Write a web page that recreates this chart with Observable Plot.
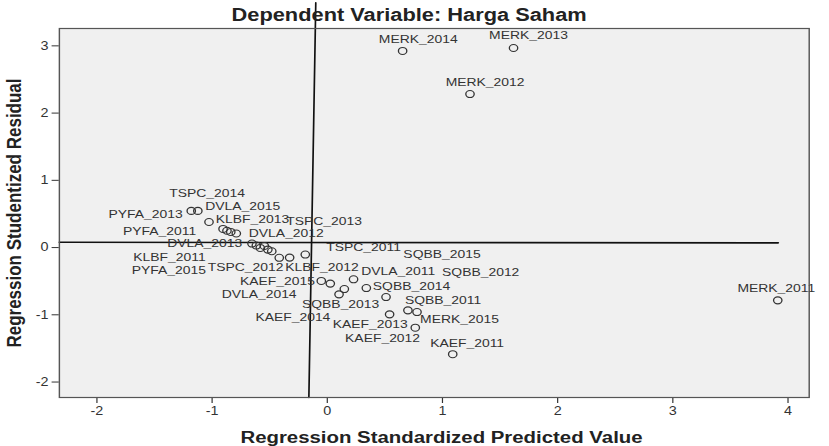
<!DOCTYPE html>
<html>
<head>
<meta charset="utf-8">
<script src="https://cdn.jsdelivr.net/npm/d3@7"></script>
<script src="https://cdn.jsdelivr.net/npm/@observablehq/plot@0.6"></script>
<style>
  html, body { margin: 0; padding: 0; background: #ffffff; overflow: hidden; }
  #chart { width: 829px; height: 446px; }
</style>
</head>
<body>
<div id="chart"></div>
<script>
// Regression Standardized Predicted Value (x) and Studentized Residual (y) for each case
const xPred = [-1.181, -1.124, -1.027, -0.905, -0.871, -0.838, -0.790, -0.654, -0.616, -0.582,
  -0.547, -0.516, -0.482, -0.417, -0.327, -0.191, -0.052, 0.026, 0.228, 0.148,
  0.102, 0.339, 0.510, 0.541, 0.700, 0.779, 0.764, 1.089, 3.911, 1.239, 1.617, 0.654];
const yResid = [0.545, 0.545, 0.380, 0.277, 0.250, 0.232, 0.209, 0.060, 0.030, -0.006,
  0.024, -0.030, -0.055, -0.152, -0.149, -0.104, -0.497, -0.536, -0.472, -0.617,
  -0.696, -0.602, -0.736, -0.993, -0.934, -0.959, -1.192, -1.586, -0.785, 2.283, 2.968, 2.924];

// Case labels and where they sit (in data units)
const labelText = ["MERK_2014", "MERK_2013", "MERK_2012", "MERK_2011", "TSPC_2014", "DVLA_2015",
  "PYFA_2013", "KLBF_2013", "TSPC_2013", "PYFA_2011", "DVLA_2012", "DVLA_2013", "TSPC_2011",
  "SQBB_2015", "KLBF_2011", "DVLA_2011", "SQBB_2012", "TSPC_2012", "KLBF_2012", "PYFA_2015",
  "KAEF_2015", "SQBB_2014", "DVLA_2014", "SQBB_2011", "SQBB_2013", "KAEF_2014", "MERK_2015",
  "KAEF_2013", "KAEF_2012", "KAEF_2011"];
const labelX = [0.790, 1.747, 1.370, 3.898, -1.044, -0.734, -1.578, -0.649, -0.028, -1.456,
  -0.356, -1.065, 0.315, 0.996, -1.370, 0.616, 1.332, -0.709, -0.046, -1.376,
  -0.432, 0.731, -0.592, 1.005, 0.116, -0.299, 1.148, 0.373, 0.480, 1.214];
const labelY = [3.098, 3.152, 2.458, -0.611, 0.804, 0.615, 0.491, 0.422, 0.392, 0.243,
  0.209, 0.060, 0.009, -0.100, -0.149, -0.353, -0.363, -0.298, -0.298, -0.338,
  -0.497, -0.576, -0.696, -0.785, -0.840, -1.043, -1.072, -1.147, -1.346, -1.421];

// Reference lines drawn on the chart
const refHX = [-2.326, 3.915];
const refHY = [0.078, 0.070];
const refVX = [-0.100, -0.160];
const refVY = [3.64, -2.23];

// Axes
const xTicks = [-2, -1, 0, 1, 2, 3, 4];
const yTicks = [-2, -1, 0, 1, 2, 3];
const xDomain = [-2.326, 4.184];
const yDomain = [-2.23, 3.258];

const titleText = "Dependent Variable: Harga Saham";
const xTitle = "Regression Standardized Predicted Value";
const yTitle = "Regression Studentized Residual";

const points = xPred.map((x, i) => ({x, y: yResid[i]}));
const labels = labelText.map((t, i) => ({t, x: labelX[i], y: labelY[i]}));
const hLine = refHX.map((x, i) => ({x, y: refHY[i]}));
const vLine = refVX.map((x, i) => ({x, y: refVY[i]}));

const W = 691, H = 446;
const font = "'Liberation Sans', Arial, sans-serif";

const chart = Plot.plot({
  width: W,
  height: H,
  marginLeft: 49,
  marginRight: 17,
  marginTop: 28,
  marginBottom: 49,
  style: {fontFamily: font, fontSize: "12px", color: "#333", background: "#ffffff", overflow: "visible"},
  x: {domain: xDomain, ticks: xTicks, tickSize: 6, tickPadding: 3, tickFormat: d => String(d), label: null},
  y: {domain: yDomain, ticks: yTicks, tickSize: 6, tickPadding: 3, tickFormat: d => String(d), label: null},
  marks: [
    Plot.frame({fill: "#f0f0f0"}),
    Plot.line(hLine, {x: "x", y: "y", stroke: "#111", strokeWidth: 1.6}),
    Plot.line(vLine, {x: "x", y: "y", stroke: "#111", strokeWidth: 1.4}),
    Plot.dot(points, {x: "x", y: "y", r: 3.5, stroke: "#333", strokeWidth: 1.1, fill: "none"}),
    Plot.text(labels, {x: "x", y: "y", text: "t", fontSize: 11.6, fill: "#333", lineAnchor: "middle"}),
    Plot.frame({stroke: "#555", strokeWidth: 1.2}),
    Plot.text([titleText], {text: d => d, frameAnchor: "top", textAnchor: "middle", lineAnchor: "middle",
      dy: -13, dx: -21, fontSize: 18.2, fontWeight: "bold", fill: "#222"}),
    Plot.text([xTitle], {text: d => d, frameAnchor: "bottom", textAnchor: "middle", lineAnchor: "middle",
      dy: 40, dx: 6, fontSize: 17, fontWeight: "bold", fill: "#222"}),
    Plot.text([yTitle], {text: d => d, frameAnchor: "left", textAnchor: "middle", lineAnchor: "middle",
      rotate: -90, dx: -37.5, fontSize: 17, fontWeight: "bold", fill: "#222"})
  ]
});

chart.style.transformOrigin = "0 0";
chart.style.transform = `scaleX(${829 / W})`;
chart.style.maxWidth = "none";
document.getElementById("chart").appendChild(chart);
</script>
</body>
</html>
